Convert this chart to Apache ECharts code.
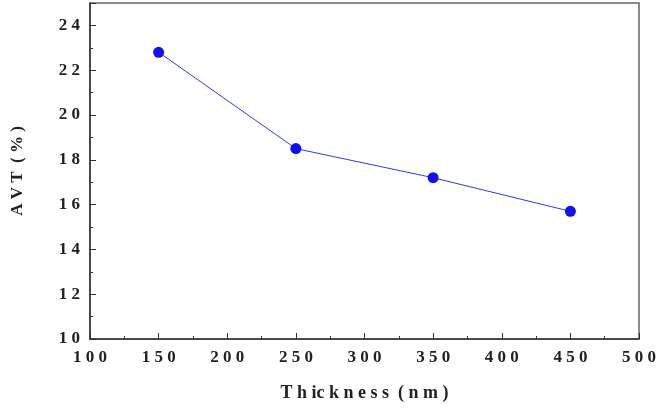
<!DOCTYPE html>
<html>
<head>
<meta charset="utf-8">
<script src="https://cdn.jsdelivr.net/npm/echarts@6/dist/echarts.min.js"></script>
<style>
  html, body { margin: 0; padding: 0; background: #fff; }
  #chart { width: 659px; height: 420px; }
</style>
</head>
<body>
<div id="chart"></div>
<script>
// data
const thickness = [150, 250, 350, 450];
const avt = [22.8, 18.5, 17.2, 15.7];
const xTicks = [100, 150, 200, 250, 300, 350, 400, 450, 500];
const yTicks = [10, 12, 14, 16, 18, 20, 22, 24];

const font = 'Liberation Serif';
const spaced = s => String(s).split('').join(' ');

let chart = echarts.init(document.getElementById('chart'));
chart.setOption({
  animation: false,
  grid: {
    left: 90, right: 17, top: 3, bottom: 81,
    show: true, borderColor: '#666', borderWidth: 1.5
  },
  xAxis: {
    type: 'value',
    min: xTicks[0], max: xTicks[xTicks.length - 1], interval: 50,
    name: 'T h ic k n e s s  ( n m )',
    nameLocation: 'middle', nameGap: 45,
    nameTextStyle: { fontFamily: font, fontWeight: 'bold', fontSize: 18, color: '#222' },
    axisLine: { lineStyle: { color: '#333', width: 1.5 } },
    axisTick: { inside: true, length: 6, lineStyle: { color: '#333' } },
    minorTick: { show: true, splitNumber: 2, length: 3, lineStyle: { color: '#333' } },
    splitLine: { show: false },
    axisLabel: {
      margin: 10, fontFamily: font, fontWeight: 'bold', fontSize: 17, color: '#222',
      formatter: v => spaced(v)
    }
  },
  yAxis: {
    type: 'value',
    min: yTicks[0], max: 25, interval: 2,
    name: 'A V T  ( % )',
    nameLocation: 'middle', nameGap: 64,
    nameTextStyle: { fontFamily: font, fontWeight: 'bold', fontSize: 17, color: '#222' },
    axisLine: { lineStyle: { color: '#333', width: 1.5 } },
    axisTick: { inside: true, length: 6, lineStyle: { color: '#333' } },
    minorTick: { show: true, splitNumber: 2, length: 3, lineStyle: { color: '#333' } },
    splitLine: { show: false },
    axisLabel: {
      margin: 10, showMaxLabel: false, fontFamily: font, fontWeight: 'bold', fontSize: 17, color: '#222',
      formatter: v => yTicks.includes(v) ? spaced(v) : ''
    }
  },
  series: [{
    type: 'line',
    data: thickness.map((t, i) => [t, avt[i]]),
    symbol: 'circle',
    symbolSize: 11,
    itemStyle: { color: '#1010f0' },
    lineStyle: { color: '#3535f5', width: 1 }
  }]
});
</script>
</body>
</html>
